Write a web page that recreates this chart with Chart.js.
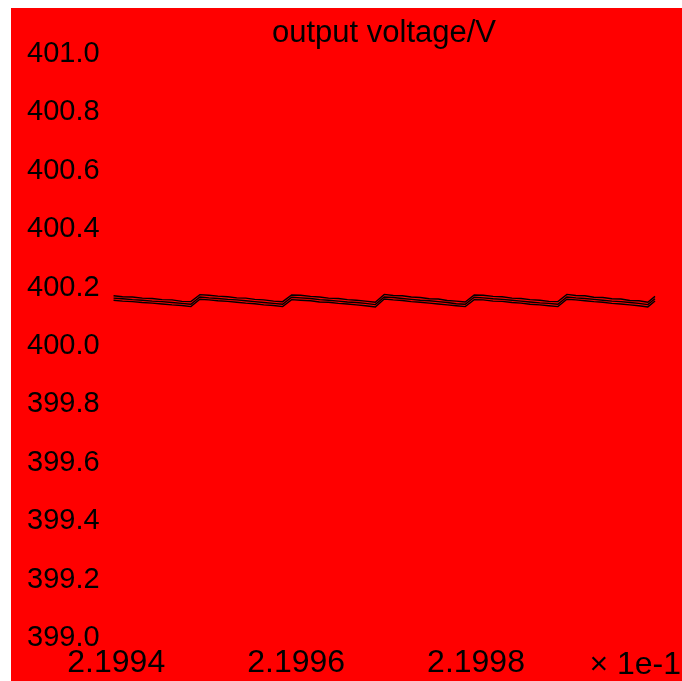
<!DOCTYPE html>
<html>
<head>
<meta charset="utf-8">
<script src="https://cdn.jsdelivr.net/npm/chart.js@4/dist/chart.umd.min.js"></script>
<style>
  html, body { margin: 0; padding: 0; background: #fff; }
  #wrap { width: 682px; height: 681px; }
</style>
</head>
<body>
<div id="wrap"><canvas id="voltChart" width="682" height="681"></canvas></div>
<script>
// time axis, shown in units of 1e-1 s
const times = [
  2.199397, 2.199407, 2.199418, 2.199429, 2.199440, 2.199451, 2.199462, 2.199473, 2.199483,
  2.199493, 2.199503, 2.199513, 2.199524, 2.199534, 2.199544, 2.199554, 2.199564, 2.199575, 2.199585,
  2.199595, 2.199605, 2.199616, 2.199626, 2.199636, 2.199647, 2.199657, 2.199667, 2.199677, 2.199688,
  2.199698, 2.199708, 2.199718, 2.199728, 2.199738, 2.199748, 2.199758, 2.199768, 2.199778, 2.199788,
  2.199798, 2.199808, 2.199819, 2.199829, 2.199840, 2.199850, 2.199860, 2.199871, 2.199881, 2.199891,
  2.199901, 2.199911, 2.199921, 2.199931, 2.199941, 2.199951, 2.199961, 2.199971, 2.199981, 2.199991,
  2.199999
];

// three traces that make up the ripple band
const voltUpper = [
  400.165, 400.162, 400.161, 400.157, 400.156, 400.152, 400.151, 400.146, 400.145,
  400.169, 400.167, 400.164, 400.162, 400.158, 400.157, 400.153, 400.151, 400.147, 400.145,
  400.168, 400.167, 400.163, 400.161, 400.157, 400.156, 400.152, 400.150, 400.147, 400.143,
  400.170, 400.166, 400.165, 400.161, 400.159, 400.155, 400.154, 400.149, 400.147, 400.144,
  400.168, 400.167, 400.163, 400.162, 400.157, 400.156, 400.152, 400.150, 400.146, 400.145,
  400.170, 400.166, 400.165, 400.160, 400.159, 400.155, 400.154, 400.149, 400.148, 400.143,
  400.163
];
const voltMid = [
  400.157, 400.155, 400.152, 400.150, 400.147, 400.145, 400.142, 400.139, 400.136,
  400.161, 400.158, 400.156, 400.153, 400.151, 400.148, 400.145, 400.142, 400.139, 400.136,
  400.160, 400.158, 400.156, 400.152, 400.150, 400.147, 400.144, 400.142, 400.139, 400.135,
  400.161, 400.159, 400.156, 400.153, 400.150, 400.148, 400.145, 400.142, 400.138, 400.136,
  400.160, 400.158, 400.155, 400.153, 400.150, 400.147, 400.144, 400.141, 400.139, 400.136,
  400.161, 400.158, 400.156, 400.153, 400.150, 400.147, 400.145, 400.142, 400.139, 400.135,
  400.155
];
const voltLower = [
  400.150, 400.147, 400.145, 400.142, 400.140, 400.137, 400.134, 400.132, 400.128,
  400.153, 400.151, 400.148, 400.146, 400.143, 400.140, 400.138, 400.134, 400.132, 400.128,
  400.152, 400.150, 400.148, 400.144, 400.143, 400.139, 400.137, 400.134, 400.131, 400.127,
  400.154, 400.151, 400.149, 400.145, 400.143, 400.140, 400.137, 400.134, 400.131, 400.128,
  400.152, 400.151, 400.147, 400.146, 400.142, 400.140, 400.136, 400.134, 400.131, 400.128,
  400.153, 400.151, 400.148, 400.145, 400.143, 400.139, 400.137, 400.134, 400.131, 400.127,
  400.147
];

const xTicks = [2.1994, 2.1996, 2.1998];
const yTicks = [399.0, 399.2, 399.4, 399.6, 399.8, 400.0, 400.2, 400.4, 400.6, 400.8, 401.0];
const titleText = "output voltage/V";
const xMultiplier = "\u00d7 1e-1";

const FONT = "'Liberation Sans', Arial, sans-serif";

function toPoints(ys) {
  return times.map((t, i) => ({ x: t, y: ys[i] }));
}

// red panel behind everything + title and multiplier text
const panelPlugin = {
  id: "panel",
  beforeDraw(chart) {
    const c = chart.ctx;
    c.save();
    c.fillStyle = "#ff0000";
    c.fillRect(11, 8, chart.width - 11, chart.height - 8);
    c.restore();
  },
  afterDraw(chart) {
    const c = chart.ctx;
    c.save();
    c.fillStyle = "#000";
    c.textBaseline = "middle";
    c.font = "31px " + FONT;
    c.textAlign = "center";
    c.fillText(titleText, 384, 33);
    c.font = "32px " + FONT;
    c.textAlign = "right";
    c.fillText(xMultiplier, 681, 665);
    c.restore();
  },
};

const ds = (ys) => ({
  data: toPoints(ys),
  borderColor: "#000",
  borderWidth: 1.4,
  pointRadius: 0,
  tension: 0,
  fill: false,
});

new Chart(document.getElementById("voltChart").getContext("2d"), {
  type: "line",
  data: { datasets: [ds(voltUpper), ds(voltMid), ds(voltLower)] },
  options: {
    responsive: false,
    animation: false,
    events: [],
    layout: { padding: { top: 52, left: 11, right: 0, bottom: 2 } },
    plugins: { legend: { display: false }, tooltip: { enabled: false }, title: { display: false } },
    scales: {
      x: {
        type: "linear",
        min: 2.199283,
        max: 2.200029,
        grid: { display: false },
        border: { display: false },
        afterBuildTicks(axis) { axis.ticks = xTicks.map((v) => ({ value: v })); },
        afterFit(axis) { axis.height = 43; },
        ticks: {
          color: "#000",
          font: { family: FONT, size: 32 },
          padding: 0,
          maxRotation: 0,
          callback: (v) => v.toFixed(4),
        },
      },
      y: {
        min: 399,
        max: 401,
        grid: { display: false },
        border: { display: false },
        afterBuildTicks(axis) { axis.ticks = yTicks.map((v) => ({ value: v })); },
        afterFit(axis) { axis.width = 0; },
        ticks: {
          mirror: true,
          color: "#000",
          font: { family: FONT, size: 29 },
          padding: 16,
          labelOffset: 2,
          callback: (v) => v.toFixed(1),
        },
      },
    },
  },
  plugins: [panelPlugin],
});
</script>
</body>
</html>
